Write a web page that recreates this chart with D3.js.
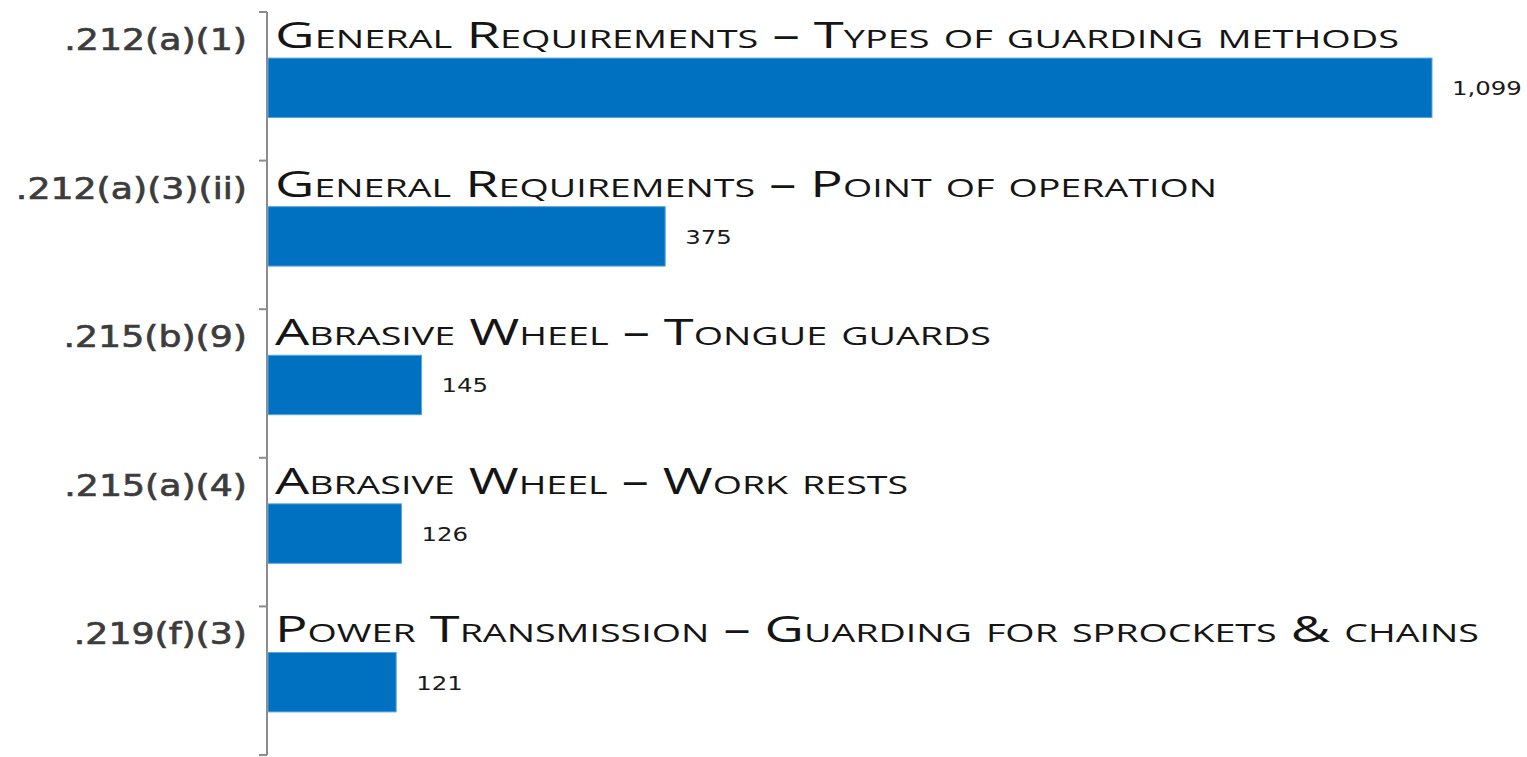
<!DOCTYPE html>
<html><head><meta charset="utf-8">
<script src="https://cdn.jsdelivr.net/npm/d3@7"></script>
<style>body{margin:0;background:#fff}svg{display:block}</style>
</head><body>
<script>
const codes = [".212(a)(1)", ".212(a)(3)(ii)", ".215(b)(9)", ".215(a)(4)", ".219(f)(3)"];
const titles = [
  "General Requirements – Types of guarding methods",
  "General Requirements – Point of operation",
  "Abrasive Wheel – Tongue guards",
  "Abrasive Wheel – Work rests",
  "Power Transmission – Guarding for sprockets & chains"
];
const values = [1099, 375, 145, 126, 121];
const titleWidths = [1124, 942, 716, 633, 1204];

const W = 1527, H = 757;
const svg = d3.select("body").append("svg").attr("width", W).attr("height", H);
const x0 = 268;
const x = d3.scaleLinear().domain([0, 1099]).range([x0, 1432]);
const y = d3.scaleBand().domain(codes).range([12, 755]).paddingInner(0);
const bw = y.bandwidth();

// axis line + ticks
svg.append("line").attr("x1", 267).attr("x2", 267).attr("y1", 12).attr("y2", 755)
  .attr("stroke", "#8c8c8c").attr("stroke-width", 2);
const tickYs = codes.map(c => y(c)).concat([y.range()[1]]);
svg.selectAll(".tick").data(tickYs).join("line")
  .attr("x1", 259).attr("x2", 267).attr("y1", d => d).attr("y2", d => d)
  .attr("stroke", "#8c8c8c").attr("stroke-width", 2);

const g = svg.selectAll(".cat").data(codes).join("g")
  .attr("transform", d => `translate(0,${y(d)})`);

g.append("rect")
  .attr("x", x0).attr("y", bw * 0.31).attr("height", bw * 0.40)
  .attr("width", (d, i) => x(values[i]) - x0)
  .attr("fill", "#0070C0").attr("stroke", "#5aa6dc").attr("stroke-width", 1);

function stretch(sel, f) {
  sel.each(function() {
    const len = this.getComputedTextLength();
    d3.select(this).attr("textLength", len * f).attr("lengthAdjust", "spacingAndGlyphs");
  });
}

const vals = g.append("text")
  .attr("x", (d, i) => x(values[i]) + 20).attr("y", bw * 0.51 + 7.5)
  .attr("font-family", "DejaVu Sans, sans-serif").attr("font-size", 20)
  .attr("fill", "#1a1a1a")
  .text((d, i) => d3.format(",")(values[i]));
stretch(vals, 1.22);

const cl = g.append("text")
  .attr("x", 247).attr("y", 38)
  .attr("text-anchor", "end")
  .attr("font-family", "DejaVu Sans, sans-serif")
  .attr("font-size", 31).attr("fill", "#3c3c3c")
  .attr("stroke", "#3c3c3c").attr("stroke-width", 0.7)
  .text(d => d);
stretch(cl, 1.17);

g.append("text")
  .attr("x", 275).attr("y", 36)
  .attr("font-family", "Open Sans, sans-serif").attr("font-size", 36)
  .style("font-variant", "small-caps")
  .attr("fill", "#151515")
  .attr("textLength", (d, i) => titleWidths[i]).attr("lengthAdjust", "spacingAndGlyphs")
  .text((d, i) => titles[i]);
</script>
</body></html>
